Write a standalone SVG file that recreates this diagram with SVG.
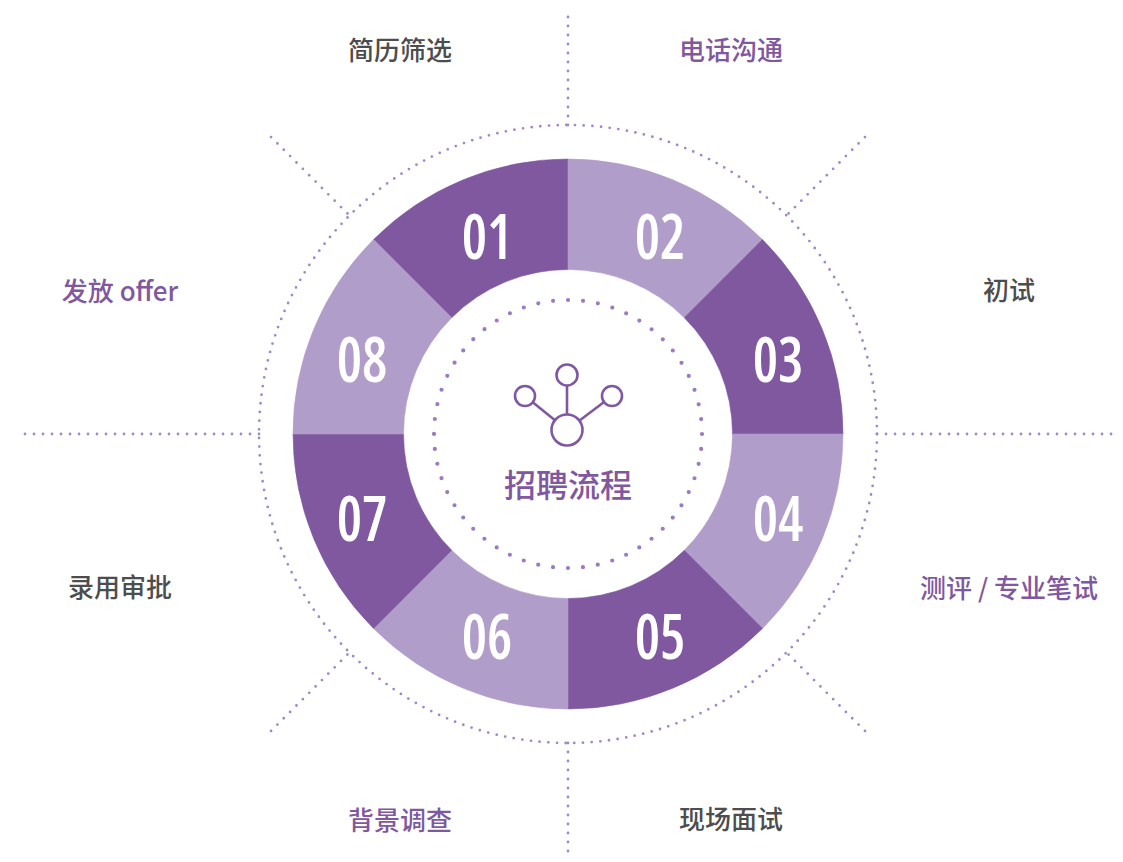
<svg xmlns="http://www.w3.org/2000/svg" width="1123" height="862" viewBox="0 0 1123 862">
<style>
.dark{fill:#7f58a0;stroke:#7f58a0;stroke-width:0.6}
.light{fill:#b19dc9;stroke:#b19dc9;stroke-width:0.6}
.num{font-family:"Open Sans",sans-serif;font-weight:600;font-stretch:75%;font-size:63px;fill:#ffffff;text-anchor:middle}
.lbl{font-family:"Noto Sans CJK SC","Noto Sans",sans-serif;font-size:26px;font-weight:500;text-anchor:middle}
.g{fill:#4d4d4d}
.p{fill:#7f58a0}
.dot{fill:none;stroke:#a189c6;stroke-width:2.8;stroke-linecap:round;stroke-dasharray:0 8.706}
.rad{fill:none;stroke:#a189c6;stroke-width:2.8;stroke-linecap:round;stroke-dasharray:0 9}
.icon{fill:#ffffff;stroke:#7f58a0;stroke-width:2.6}
</style>
<rect width="1123" height="862" fill="#ffffff"/>
<g id="connectors">
<circle class="dot" cx="568" cy="434" r="309"/>
<line class="rad" x1="568" y1="125" x2="568" y2="12"/>
<line class="rad" x1="568" y1="743" x2="568" y2="856"/>
<line class="rad" x1="877" y1="434" x2="1118" y2="434"/>
<line class="rad" x1="259" y1="434" x2="20" y2="434"/>
<line class="rad" x1="347.4" y1="213.4" x2="268.2" y2="134.2"/>
<line class="rad" x1="788.6" y1="213.4" x2="867.8" y2="134.2"/>
<line class="rad" x1="788.6" y1="654.6" x2="867.8" y2="733.8"/>
<line class="rad" x1="347.4" y1="654.6" x2="268.2" y2="733.8"/>
</g>
<g id="seg01"><path class="dark" d="M373.55,239.55 A275,275 0 0 1 568,159 L568,269.5 A164.5,164.5 0 0 0 451.68,317.68 Z"/><text class="num" transform="translate(487,259) scale(0.9,1)">01</text></g>
<g id="seg02"><path class="light" d="M568,159 A275,275 0 0 1 762.45,239.55 L684.32,317.68 A164.5,164.5 0 0 0 568,269.5 Z"/><text class="num" transform="translate(660,259) scale(0.9,1)">02</text></g>
<g id="seg03"><path class="dark" d="M762.45,239.55 A275,275 0 0 1 843,434 L732.5,434 A164.5,164.5 0 0 0 684.32,317.68 Z"/><text class="num" transform="translate(778,382) scale(0.9,1)">03</text></g>
<g id="seg04"><path class="light" d="M843,434 A275,275 0 0 1 762.45,628.45 L684.32,550.32 A164.5,164.5 0 0 0 732.5,434 Z"/><text class="num" transform="translate(778,541) scale(0.9,1)">04</text></g>
<g id="seg05"><path class="dark" d="M762.45,628.45 A275,275 0 0 1 568,709 L568,598.5 A164.5,164.5 0 0 0 684.32,550.32 Z"/><text class="num" transform="translate(660,659) scale(0.9,1)">05</text></g>
<g id="seg06"><path class="light" d="M568,709 A275,275 0 0 1 373.55,628.45 L451.68,550.32 A164.5,164.5 0 0 0 568,598.5 Z"/><text class="num" transform="translate(487,659) scale(0.9,1)">06</text></g>
<g id="seg07"><path class="dark" d="M373.55,628.45 A275,275 0 0 1 293,434 L403.5,434 A164.5,164.5 0 0 0 451.68,550.32 Z"/><text class="num" transform="translate(362,541) scale(0.9,1)">07</text></g>
<g id="seg08"><path class="light" d="M293,434 A275,275 0 0 1 373.55,239.55 L451.68,317.68 A164.5,164.5 0 0 0 403.5,434 Z"/><text class="num" transform="translate(362,382) scale(0.9,1)">08</text></g>
<g id="center">
<circle cx="568" cy="434" r="134" fill="none" stroke="#9a7cc0" stroke-width="4.2" stroke-linecap="round" stroke-dasharray="0 15.03"/>
<line x1="567" y1="430" x2="567" y2="375" stroke="#7f58a0" stroke-width="2.6"/>
<line x1="567" y1="430" x2="525" y2="396" stroke="#7f58a0" stroke-width="2.6"/>
<line x1="567" y1="430" x2="612" y2="396" stroke="#7f58a0" stroke-width="2.6"/>
<circle class="icon" cx="567" cy="375" r="10.5"/>
<circle class="icon" cx="525" cy="396" r="10"/>
<circle class="icon" cx="612" cy="396" r="10"/>
<circle class="icon" cx="567" cy="430" r="15.5"/>
<text x="568" y="497" font-family="Noto Sans CJK SC, sans-serif" font-size="32" font-weight="500" fill="#7f58a0" text-anchor="middle">招聘流程</text>
</g>
<g id="label01"><text class="lbl g" x="400" y="60">简历筛选</text></g>
<g id="label02"><text class="lbl p" x="731" y="60">电话沟通</text></g>
<g id="label03"><text class="lbl g" x="1009" y="300">初试</text></g>
<g id="label04"><text class="lbl p" x="1009" y="598">测评 / 专业笔试</text></g>
<g id="label05"><text class="lbl g" x="731" y="829">现场面试</text></g>
<g id="label06"><text class="lbl p" x="400" y="830">背景调查</text></g>
<g id="label07"><text class="lbl g" x="120" y="597">录用审批</text></g>
<g id="label08"><text class="lbl p" x="120" y="301">发放 offer</text></g>
</svg>
